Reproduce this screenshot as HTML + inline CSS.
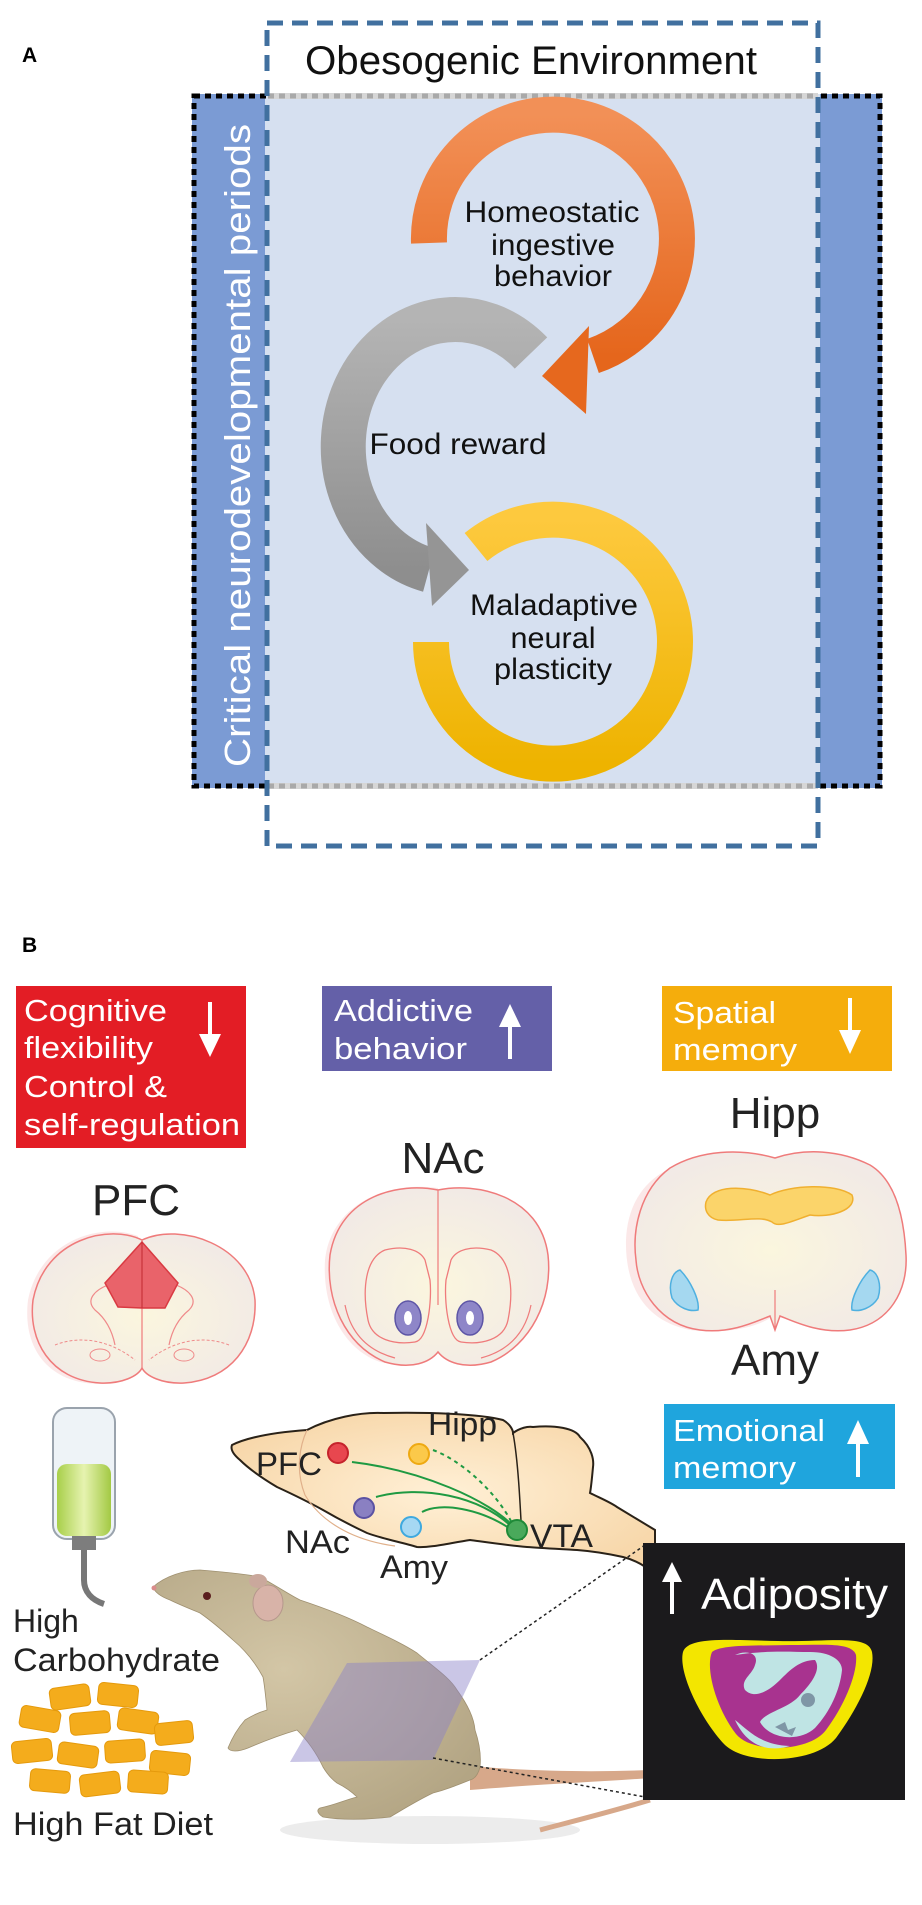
<!DOCTYPE html>
<html><head><meta charset="utf-8"><style>
html,body{margin:0;padding:0;background:#fff;}
svg{display:block;}
text{font-family:"Liberation Sans",Arial,sans-serif;}
</style></head><body>
<svg width="922" height="1905" viewBox="0 0 922 1905" xmlns="http://www.w3.org/2000/svg">
<defs>
<linearGradient id="gOr" x1="0" y1="0" x2="0" y2="1"><stop offset="0" stop-color="#f29057"/><stop offset="1" stop-color="#e5661c"/></linearGradient>
<linearGradient id="gGr" x1="0" y1="0" x2="0" y2="1"><stop offset="0" stop-color="#b4b4b4"/><stop offset="1" stop-color="#8e8e8e"/></linearGradient>
<linearGradient id="gYe" x1="0" y1="0" x2="0" y2="1"><stop offset="0" stop-color="#fdc93e"/><stop offset="1" stop-color="#eeb300"/></linearGradient>
<radialGradient id="gBr" cx="0.5" cy="0.55" r="0.6"><stop offset="0" stop-color="#fbf6de"/><stop offset="1" stop-color="#f1e9e6"/></radialGradient>
<linearGradient id="gLiq" x1="0" y1="0" x2="1" y2="0"><stop offset="0" stop-color="#a8cf4a"/><stop offset="0.5" stop-color="#e6f3b0"/><stop offset="1" stop-color="#a3c944"/></linearGradient>
<radialGradient id="gRat" cx="0.4" cy="0.4" r="0.7"><stop offset="0" stop-color="#d3c6a6"/><stop offset="1" stop-color="#b3a584"/></radialGradient>
<radialGradient id="gSag" cx="0.5" cy="0.5" r="0.6"><stop offset="0" stop-color="#fff0d6"/><stop offset="1" stop-color="#f7d6a8"/></radialGradient>
</defs>

<!-- PANEL A -->
<text x="22" y="62" font-size="21" font-weight="bold" fill="#000">A</text>
<rect x="192" y="94" width="73" height="694" fill="#7b9bd4"/>
<rect x="820" y="94" width="62" height="694" fill="#7b9bd4"/>
<rect x="265" y="94" width="555" height="694" fill="#d6e0f0"/>
<rect x="194" y="96" width="686" height="690" fill="none" stroke="#000" stroke-width="5" stroke-dasharray="6 5"/>
<line x1="268" y1="96" x2="818" y2="96" stroke="#d6d6d6" stroke-width="6"/>
<line x1="268" y1="96" x2="818" y2="96" stroke="#a9a9a9" stroke-width="5" stroke-dasharray="6 5"/>
<line x1="268" y1="786" x2="818" y2="786" stroke="#d6d6d6" stroke-width="6"/>
<line x1="268" y1="786" x2="818" y2="786" stroke="#a9a9a9" stroke-width="5" stroke-dasharray="6 5"/>
<rect x="267" y="23" width="551" height="823" fill="none" stroke="#41709f" stroke-width="5" stroke-dasharray="16 9"/>
<text x="531" y="74" font-size="40" text-anchor="middle" textLength="452" lengthAdjust="spacingAndGlyphs" fill="#111">Obesogenic Environment</text>
<text transform="translate(250,767) rotate(-90)" font-size="36" fill="#fff" textLength="643" lengthAdjust="spacingAndGlyphs">Critical neurodevelopmental periods</text>

<!-- orange -->
<path d="M429,243 A124,124 0 1 1 593,356" fill="none" stroke="url(#gOr)" stroke-width="36"/>
<polygon points="589,326 586,414 542,376" fill="#e6681e"/>
<!-- gray -->
<path d="M531,353 A112,127 0 1 0 429,570" fill="none" stroke="url(#gGr)" stroke-width="45"/>
<polygon points="426,523 432,606 469,570" fill="#959595"/>
<!-- yellow -->
<path d="M476,547 A122,122 0 1 1 431,642" fill="none" stroke="url(#gYe)" stroke-width="36"/>

<g font-size="30" fill="#111" text-anchor="middle">
<text x="552" y="222" textLength="175" lengthAdjust="spacingAndGlyphs">Homeostatic</text>
<text x="553" y="255" textLength="124" lengthAdjust="spacingAndGlyphs">ingestive</text>
<text x="553" y="286" textLength="118" lengthAdjust="spacingAndGlyphs">behavior</text>
<text x="458" y="454" textLength="177" lengthAdjust="spacingAndGlyphs">Food reward</text>
<text x="554" y="615" textLength="168" lengthAdjust="spacingAndGlyphs">Maladaptive</text>
<text x="553" y="648" textLength="85" lengthAdjust="spacingAndGlyphs">neural</text>
<text x="553" y="679" textLength="118" lengthAdjust="spacingAndGlyphs">plasticity</text>
</g>

<!-- PANEL B -->
<text x="22" y="952" font-size="21" font-weight="bold" fill="#000">B</text>
<rect x="16" y="986" width="230" height="162" fill="#e31d25"/>
<rect x="322" y="986" width="230" height="85" fill="#6460a8"/>
<rect x="662" y="986" width="230" height="85" fill="#f5ad0c"/>
<g font-size="31" fill="#fff">
<text x="24" y="1021" textLength="143" lengthAdjust="spacingAndGlyphs">Cognitive</text>
<text x="24" y="1058" textLength="129" lengthAdjust="spacingAndGlyphs">flexibility</text>
<text x="24" y="1097" textLength="143" lengthAdjust="spacingAndGlyphs">Control &amp;</text>
<text x="24" y="1135" textLength="216" lengthAdjust="spacingAndGlyphs">self-regulation</text>
<text x="334" y="1021" textLength="139" lengthAdjust="spacingAndGlyphs">Addictive</text>
<text x="334" y="1059" textLength="133" lengthAdjust="spacingAndGlyphs">behavior</text>
<text x="673" y="1023" textLength="103" lengthAdjust="spacingAndGlyphs">Spatial</text>
<text x="673" y="1060" textLength="124" lengthAdjust="spacingAndGlyphs">memory</text>
</g>
<g fill="#fff" stroke="#fff">
<line x1="210" y1="1002" x2="210" y2="1040" stroke-width="4"/><polygon points="199,1034 221,1034 210,1057" stroke="none"/>
<line x1="510" y1="1022" x2="510" y2="1059" stroke-width="4"/><polygon points="499,1027 521,1027 510,1004" stroke="none"/>
<line x1="850" y1="998" x2="850" y2="1036" stroke-width="4"/><polygon points="839,1030 861,1030 850,1054" stroke="none"/>
</g>

<g font-size="44" fill="#222" text-anchor="middle">
<text x="136" y="1215">PFC</text>
<text x="443" y="1173">NAc</text>
<text x="775" y="1128">Hipp</text>
<text x="775" y="1375">Amy</text>
</g>

<!-- PFC coronal -->
<path d="M138,1236 C100,1222 40,1240 28,1300 C22,1350 50,1384 100,1384 C120,1384 135,1378 138,1370 Z" fill="#f9dede" opacity="0.7"/>
<path d="M142,1240 C110,1224 45,1238 33,1300 C28,1340 50,1380 100,1383 C122,1384 138,1376 142,1368 C146,1376 162,1384 184,1383 C230,1380 257,1345 255,1300 C250,1245 180,1222 142,1240 Z" fill="url(#gBr)" stroke="#ef7b7b" stroke-width="1.5"/>
<line x1="142" y1="1240" x2="142" y2="1368" stroke="#ef7b7b" stroke-width="1.2"/>
<path d="M108,1285 C95,1290 85,1300 95,1310 C105,1318 112,1330 115,1345 M176,1285 C189,1290 199,1300 189,1310 C179,1318 172,1330 169,1345" fill="none" stroke="#ef8a8a" stroke-width="1.2"/>
<path d="M55,1345 C80,1335 110,1340 135,1360 M229,1345 C204,1335 174,1340 149,1360" fill="none" stroke="#ef8a8a" stroke-width="1" stroke-dasharray="3 2"/>
<ellipse cx="100" cy="1355" rx="10" ry="6" fill="none" stroke="#ef8a8a" stroke-width="1"/>
<ellipse cx="184" cy="1355" rx="10" ry="6" fill="none" stroke="#ef8a8a" stroke-width="1"/>
<polygon points="142,1242 105,1283 118,1307 142,1308 165,1308 178,1283" fill="#e9636a" stroke="#d93a42" stroke-width="1.5"/>
<line x1="142" y1="1242" x2="142" y2="1308" stroke="#c8343b" stroke-width="1.2"/>

<!-- NAc coronal -->
<path d="M438,1188 C380,1180 330,1210 325,1260 C322,1310 345,1350 380,1362 C410,1368 430,1360 438,1352 Z" fill="#f9dede" opacity="0.7"/>
<path d="M438,1190 C400,1182 340,1195 330,1255 C325,1300 345,1345 385,1362 C412,1370 430,1362 438,1352 C446,1362 464,1370 491,1362 C531,1345 553,1300 548,1255 C540,1195 476,1182 438,1190 Z" fill="url(#gBr)" stroke="#ef7b7b" stroke-width="1.5"/>
<line x1="438" y1="1190" x2="438" y2="1305" stroke="#ef7b7b" stroke-width="1.2"/>
<path d="M425,1260 C420,1250 405,1245 385,1250 C365,1258 362,1290 368,1320 C372,1340 395,1345 415,1342 C428,1340 432,1300 430,1280 Z" fill="none" stroke="#ef7b7b" stroke-width="1.3"/>
<path d="M451,1260 C456,1250 471,1245 491,1250 C511,1258 514,1290 508,1320 C504,1340 481,1345 461,1342 C448,1340 444,1300 446,1280 Z" fill="none" stroke="#ef7b7b" stroke-width="1.3"/>
<path d="M345,1305 C350,1330 365,1350 395,1358 M531,1305 C526,1330 511,1350 481,1358" fill="none" stroke="#ef7b7b" stroke-width="1.2"/>
<ellipse cx="408" cy="1318" rx="13" ry="17" fill="#8e86c8" stroke="#5d55a6" stroke-width="1.5"/>
<ellipse cx="470" cy="1318" rx="13" ry="17" fill="#8e86c8" stroke="#5d55a6" stroke-width="1.5"/>
<ellipse cx="408" cy="1318" rx="4" ry="7" fill="#fff"/>
<ellipse cx="470" cy="1318" rx="4" ry="7" fill="#fff"/>

<!-- Hipp coronal -->
<path d="M700,1160 C660,1165 628,1190 626,1240 C625,1280 640,1320 690,1330 C730,1335 760,1325 770,1318 Z" fill="#f9dede" opacity="0.7"/>
<path d="M775,1158 C740,1148 700,1150 670,1168 C640,1190 632,1230 636,1260 C638,1290 660,1325 700,1330 C730,1334 755,1322 770,1316 L775,1330 L780,1316 C795,1322 820,1334 850,1330 C890,1324 908,1290 906,1255 C904,1215 895,1180 870,1165 C840,1150 805,1148 775,1158 Z" fill="url(#gBr)" stroke="#ef7b7b" stroke-width="1.5"/>
<line x1="775" y1="1290" x2="775" y2="1330" stroke="#ef7b7b" stroke-width="1.2"/>
<path d="M706,1202 C712,1185 745,1185 770,1195 C790,1185 835,1183 852,1195 C858,1210 830,1218 810,1215 C790,1222 778,1228 772,1222 C760,1215 740,1222 718,1220 C708,1218 704,1210 706,1202 Z" fill="#fbd46a" stroke="#f0b030" stroke-width="1.5"/>
<path d="M680,1270 C690,1280 700,1300 698,1310 C690,1312 678,1308 672,1298 C668,1285 672,1272 680,1270 Z" fill="#a5d8f0" stroke="#4fb0e0" stroke-width="1.5"/>
<path d="M870,1270 C860,1280 850,1300 852,1310 C860,1312 872,1308 878,1298 C882,1285 878,1272 870,1270 Z" fill="#a5d8f0" stroke="#4fb0e0" stroke-width="1.5"/>

<!-- Emotional memory -->
<rect x="664" y="1404" width="231" height="85" fill="#1fa5dd"/>
<text x="673" y="1441" font-size="31" fill="#fff" textLength="152" lengthAdjust="spacingAndGlyphs">Emotional</text>
<text x="673" y="1478" font-size="31" fill="#fff" textLength="123" lengthAdjust="spacingAndGlyphs">memory</text>
<line x1="858" y1="1440" x2="858" y2="1477" stroke="#fff" stroke-width="4"/><polygon points="847,1444 869,1444 858,1420" fill="#fff"/>

<!-- bottle -->
<rect x="53" y="1408" width="62" height="131" rx="14" fill="#eef3f7" stroke="#9aa3ad" stroke-width="2"/>
<rect x="57" y="1464" width="54" height="72" rx="10" fill="url(#gLiq)"/>
<rect x="72" y="1536" width="24" height="14" fill="#7d7d7d"/>
<path d="M84,1550 L84,1580 C84,1592 92,1600 104,1604" fill="none" stroke="#777" stroke-width="6"/>
<text x="13" y="1632" font-size="32" fill="#222">High</text>
<text x="13" y="1671" font-size="32" fill="#222" textLength="207" lengthAdjust="spacingAndGlyphs">Carbohydrate</text>

<!-- pellets -->
<g fill="#f4ac1c" stroke="#e59a0c" stroke-width="1">
<rect x="50" y="1686" width="40" height="22" rx="5" transform="rotate(-8 70 1697)"/>
<rect x="98" y="1684" width="40" height="22" rx="5" transform="rotate(6 118 1695)"/>
<rect x="20" y="1708" width="40" height="22" rx="5" transform="rotate(10 40 1719)"/>
<rect x="70" y="1712" width="40" height="22" rx="5" transform="rotate(-5 90 1723)"/>
<rect x="118" y="1710" width="40" height="22" rx="5" transform="rotate(8 138 1721)"/>
<rect x="155" y="1722" width="38" height="22" rx="5" transform="rotate(-6 174 1733)"/>
<rect x="12" y="1740" width="40" height="22" rx="5" transform="rotate(-6 32 1751)"/>
<rect x="58" y="1744" width="40" height="22" rx="5" transform="rotate(8 78 1755)"/>
<rect x="105" y="1740" width="40" height="22" rx="5" transform="rotate(-4 125 1751)"/>
<rect x="150" y="1752" width="40" height="22" rx="5" transform="rotate(6 170 1763)"/>
<rect x="30" y="1770" width="40" height="22" rx="5" transform="rotate(5 50 1781)"/>
<rect x="80" y="1773" width="40" height="22" rx="5" transform="rotate(-7 100 1784)"/>
<rect x="128" y="1771" width="40" height="22" rx="5" transform="rotate(4 148 1782)"/>
</g>
<text x="13" y="1835" font-size="32" fill="#222" textLength="200" lengthAdjust="spacingAndGlyphs">High Fat Diet</text>

<!-- rat shadow -->
<ellipse cx="430" cy="1830" rx="150" ry="14" fill="#ececec"/>
<!-- tail -->
<path d="M470,1766 C540,1772 600,1772 650,1770 L650,1778 C600,1782 540,1784 470,1790 Z" fill="#d7a88a"/>
<path d="M650,1800 C610,1812 570,1822 540,1830" fill="none" stroke="#d7a88a" stroke-width="5"/>
<!-- sagittal brain + stem -->
<path d="M232,1445 C250,1436 280,1432 307,1430 C330,1418 360,1412 383,1413 C430,1412 480,1414 503,1420 C510,1424 513,1430 513,1433 C520,1428 528,1426 533,1427 C555,1425 575,1428 580,1437 C592,1448 594,1460 593,1467 C592,1478 591,1488 590,1493 C600,1498 610,1502 617,1507 C630,1515 642,1522 655,1530 L655,1575 C645,1565 635,1560 623,1557 C605,1553 590,1551 577,1550 C560,1549 540,1548 527,1547 C505,1545 485,1542 470,1540 C450,1543 430,1548 417,1547 C400,1542 380,1538 367,1533 C350,1525 335,1517 323,1510 C305,1500 290,1493 277,1487 C262,1478 248,1468 240,1460 C234,1455 230,1450 232,1445 Z" fill="url(#gSag)" stroke="#2a2218" stroke-width="2"/>
<path d="M513,1433 C518,1460 520,1500 522,1540" fill="none" stroke="#2a2218" stroke-width="1.5"/>
<path d="M307,1430 C300,1445 295,1470 305,1495 C320,1520 350,1540 395,1546" fill="none" stroke="#e0b08a" stroke-width="1.2"/>
<!-- neural connections -->
<g fill="none" stroke="#1f9a42" stroke-width="2">
<path d="M352,1462 C420,1470 490,1500 515,1528"/>
<path d="M376,1497 C420,1485 480,1495 513,1528"/>
<path d="M422,1512 C440,1502 480,1508 512,1530"/>
<path d="M433,1450 C460,1460 495,1490 512,1523" stroke-dasharray="4 4"/>
</g>
<circle cx="338" cy="1453" r="10" fill="#e8474f" stroke="#c5232c" stroke-width="2"/>
<circle cx="419" cy="1454" r="10" fill="#fbc94a" stroke="#eea912" stroke-width="2"/>
<circle cx="364" cy="1508" r="10" fill="#8a80c2" stroke="#5b52a3" stroke-width="2"/>
<circle cx="411" cy="1527" r="10" fill="#a6d8f3" stroke="#3fa9df" stroke-width="2"/>
<circle cx="517" cy="1530" r="10" fill="#4aa95b" stroke="#1f8a38" stroke-width="2"/>
<g font-size="32" fill="#222">
<text x="256" y="1475" textLength="66" lengthAdjust="spacingAndGlyphs">PFC</text>
<text x="428" y="1435" textLength="69" lengthAdjust="spacingAndGlyphs">Hipp</text>
<text x="285" y="1553" textLength="65" lengthAdjust="spacingAndGlyphs">NAc</text>
<text x="380" y="1578" textLength="68" lengthAdjust="spacingAndGlyphs">Amy</text>
<text x="530" y="1547" textLength="63" lengthAdjust="spacingAndGlyphs">VTA</text>
</g>

<!-- rat body -->
<path d="M153,1587 C165,1576 185,1570 200,1570 C225,1572 245,1574 260,1577 C275,1585 290,1595 300,1600 C330,1610 350,1618 367,1627 C390,1638 405,1645 417,1653 C435,1668 450,1678 457,1690 C468,1705 474,1718 475,1730 C480,1745 481,1758 480,1767 C478,1775 474,1779 470,1780 C455,1786 445,1790 433,1793 C418,1800 402,1810 390,1817 C365,1820 340,1820 323,1817 C318,1814 316,1810 320,1808 C335,1805 345,1800 357,1797 C350,1790 343,1786 337,1783 C330,1778 326,1772 323,1767 C315,1750 305,1738 297,1730 C280,1735 262,1742 248,1748 C238,1752 230,1752 228,1748 C232,1738 238,1728 245,1720 C253,1715 260,1712 267,1710 C266,1700 265,1688 263,1677 C255,1662 245,1650 233,1640 C222,1630 210,1620 200,1613 C188,1608 178,1604 170,1600 C162,1597 155,1593 153,1587 Z" fill="url(#gRat)" stroke="#9f9070" stroke-width="0.8"/>
<ellipse cx="268" cy="1603" rx="15" ry="18" fill="#d8b3a8" stroke="#b5978c" stroke-width="1"/>
<ellipse cx="258" cy="1581" rx="9" ry="7" fill="#caa89c"/>
<circle cx="207" cy="1596" r="4" fill="#5a1e1e"/>
<circle cx="154" cy="1588" r="2.5" fill="#d98b8b"/>
<!-- cross-section plane -->
<polygon points="347,1663 480,1660 433,1760 290,1762" fill="#8a80c8" opacity="0.45"/>
<g stroke="#222" stroke-width="1.5" stroke-dasharray="3 3" fill="none">
<line x1="480" y1="1660" x2="645" y2="1545"/>
<line x1="433" y1="1758" x2="645" y2="1797"/>
</g>

<!-- adiposity box -->
<rect x="643" y="1543" width="262" height="257" fill="#1b1a1c"/>
<line x1="672" y1="1575" x2="672" y2="1614" stroke="#fff" stroke-width="4"/><polygon points="662,1582 682,1582 672,1562" fill="#fff"/>
<text x="701" y="1609" font-size="44" fill="#fff" textLength="187" lengthAdjust="spacingAndGlyphs">Adiposity</text>
<path d="M683,1652 C688,1636 730,1640 778,1641 C830,1642 868,1634 872,1652 C876,1672 858,1708 836,1738 C815,1764 745,1766 724,1744 C700,1718 678,1672 683,1652 Z" fill="#f3e600"/>
<path d="M712,1652 C722,1644 760,1646 790,1645 C825,1645 852,1642 856,1655 C858,1672 845,1705 826,1730 C810,1752 752,1754 736,1734 C716,1708 705,1668 712,1652 Z" fill="#a8338f"/>
<path d="M735,1655 C745,1650 760,1652 755,1665 C752,1675 740,1680 745,1690 C755,1700 770,1690 780,1680 C790,1670 800,1660 815,1660 C822,1670 810,1685 800,1695 C790,1708 765,1712 760,1722 C770,1740 800,1742 815,1728 C830,1712 840,1690 842,1670 C842,1660 830,1652 810,1652 C790,1652 770,1650 735,1655 Z" fill="#bfe4e4"/>
<path d="M735,1720 C748,1730 760,1745 790,1746 C770,1752 748,1748 735,1720 Z" fill="#bfe4e4"/>
<circle cx="808" cy="1700" r="7" fill="#7f96a6"/>
<path d="M775,1727 l10,-5 l3,8 l8,-3 l-4,9 z" fill="#7f96a6"/>
</svg>
</body></html>
